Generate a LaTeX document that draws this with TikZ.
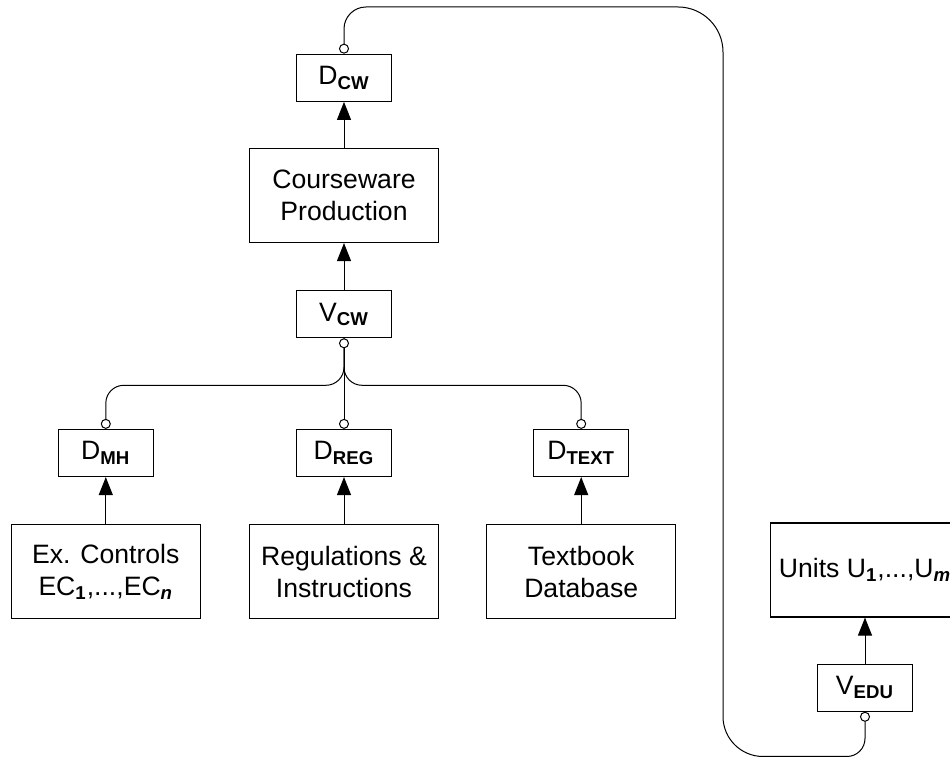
\documentclass[tikz,border=0pt]{standalone}
\usepackage{fontspec}
\setmainfont{Liberation Sans}
\usetikzlibrary{positioning, arrows.meta}

\newcommand{\sub}[1]{\textsubscript{\bfseries #1}}

\tikzset{
    ring/.tip={Circle[fill=white, length=5pt]},
    block/.style={draw, line width=0.6pt, minimum width=94.5pt,
        minimum height=47pt, inner sep=2pt, align=center,
        font=\fontsize{13.3}{16}\selectfont},
    tag/.style={draw, line width=0.6pt, minimum width=47.5pt,
        minimum height=23.5pt, inner sep=0pt,
        font=\fontsize{13.3}{16}\selectfont},
    flow/.style={line width=0.5pt, -{Triangle[length=9pt, width=7pt]}},
    tap/.style={line width=0.5pt}
}

\begin{document}
\begin{tikzpicture}[x=0.5pt, y=0.5pt]
\useasboundingbox (0,0) rectangle (950,758);

% courseware chain
\node[block] (prod) at (344,562.5) {Courseware\\Production};
\node[tag, above=23pt of prod] (dcw) {D\sub{CW}};
\node[tag, below=23.5pt of prod] (vcw) {V\sub{CW}};
\coordinate[below=23.5pt of vcw.south] (fork);

% sources
\node[tag] (dreg) at (344,305) {D\sub{REG}};
\node[tag, left=71pt of dreg] (dmh) {D\sub{MH}};
\node[tag, right=70.5pt of dreg] (dtext) {D\sub{TEXT}};
\node[block, below=23.5pt of dmh] (ctrl)
    {Ex. Controls\\EC\sub{1},...,EC\sub{\itshape n}};
\node[block, below=23.5pt of dreg] (regs)
    {Regulations \&\\Instructions};
\node[block, below=23.5pt of dtext] (tbook)
    {Textbook\\Database};

% units
\node[block] (units) at (865,188) {Units U\sub{1},...,U\sub{\itshape m}};
\node[tag, below=23pt of units] (vedu) {V\sub{EDU}};

\draw[flow] (prod) -- (dcw);
\draw[flow] (vcw) -- (prod);
\draw[flow] (ctrl) -- (dmh);
\draw[flow] (regs) -- (dreg);
\draw[flow] (tbook) -- (dtext);
\draw[flow] (vedu) -- (units);

\draw[tap, rounded corners=9pt, -ring] (vcw.south) -- (fork) -| (dmh.north);
\draw[tap, rounded corners=9pt, -ring] (vcw.south) -- (fork) -| (dtext.north);
\draw[tap, ring-ring] (vcw.south) -- (dreg.north);

\draw[tap, ring-ring] (vedu.south) -- (865,19.5)
    arc[start angle=0, end angle=-90, radius=18] -- (763,1.5)
    arc[start angle=270, end angle=180, radius=40] -- (723,706)
    arc[start angle=0, end angle=90, radius=45] -- (366,751)
    arc[start angle=90, end angle=180, radius=22] -- (dcw.north);
\end{tikzpicture}
\end{document}
